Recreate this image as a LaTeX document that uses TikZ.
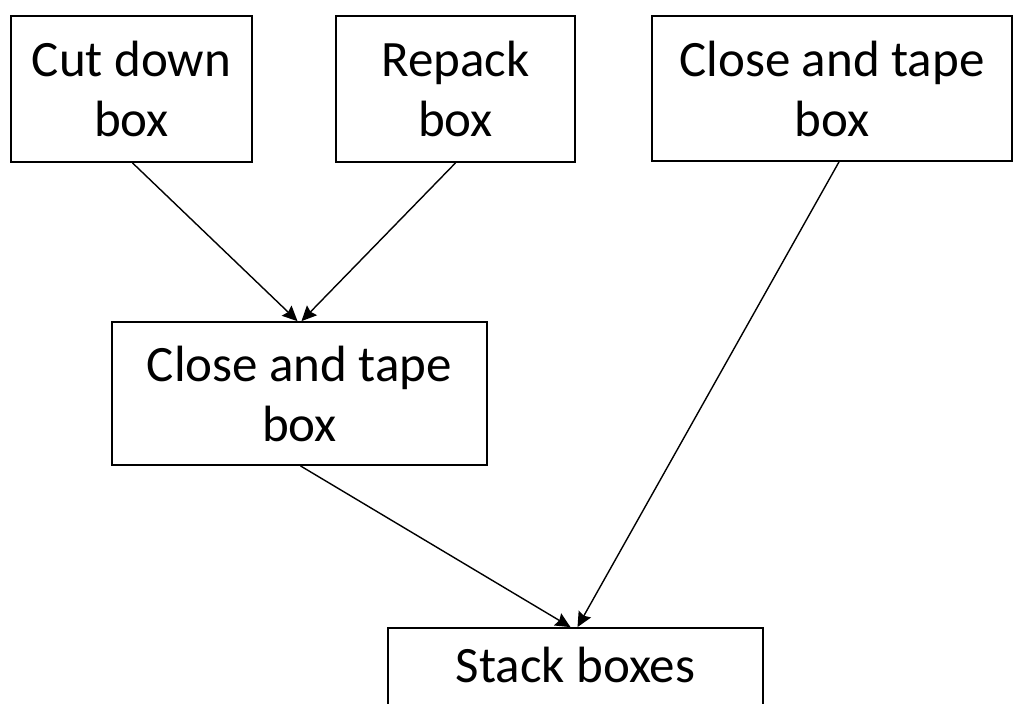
\documentclass[tikz,border=0pt]{standalone}
\usepackage{fontspec}
\setmainfont{Carlito}
\usetikzlibrary{arrows.meta,calc}
\tikzset{
  stepbox/.style={draw=black, line width=1.8pt, align=center, inner sep=0pt,
    font=\fontsize{51}{60}\selectfont},
  flow/.style={line width=1.4pt, -{Stealth[length=15pt,width=14pt,inset=2pt]}}
}
\begin{document}
\begin{tikzpicture}[x=1pt,y=-1pt]
  \useasboundingbox (0,0) rectangle (1015,704);
  % top row of tasks
  \node[stepbox, minimum width=241pt, minimum height=146pt] (cut) at (131.5,89) {Cut down\\box};
  \node[stepbox, minimum width=239pt, minimum height=146pt] (repack) at (455.5,89) {Repack\\box};
  \node[stepbox, minimum width=360pt, minimum height=145pt] (tapeA) at (832,88.5) {Close and tape\\box};
  % middle task
  \node[stepbox, minimum width=375pt, minimum height=143pt] (tapeB) at (299.5,393.5) {Close and tape\\box};
  % final task, running past the lower edge
  \node[stepbox, minimum width=375pt, minimum height=84pt, text height=36pt, text depth=12pt] (stack) at (575.5,670) {Stack boxes};
  % connectors
  \draw[flow] ([xshift=1pt]cut.south) -- ([xshift=-2pt]tapeB.north);
  \draw[flow] (repack.south) -- ([xshift=2pt]tapeB.north);
  \draw[flow] ([xshift=7pt]tapeA.south) -- ([xshift=2pt]stack.north);
  \draw[flow] ([xshift=1pt]tapeB.south) -- ([xshift=-5pt]stack.north);
\end{tikzpicture}
\end{document}
